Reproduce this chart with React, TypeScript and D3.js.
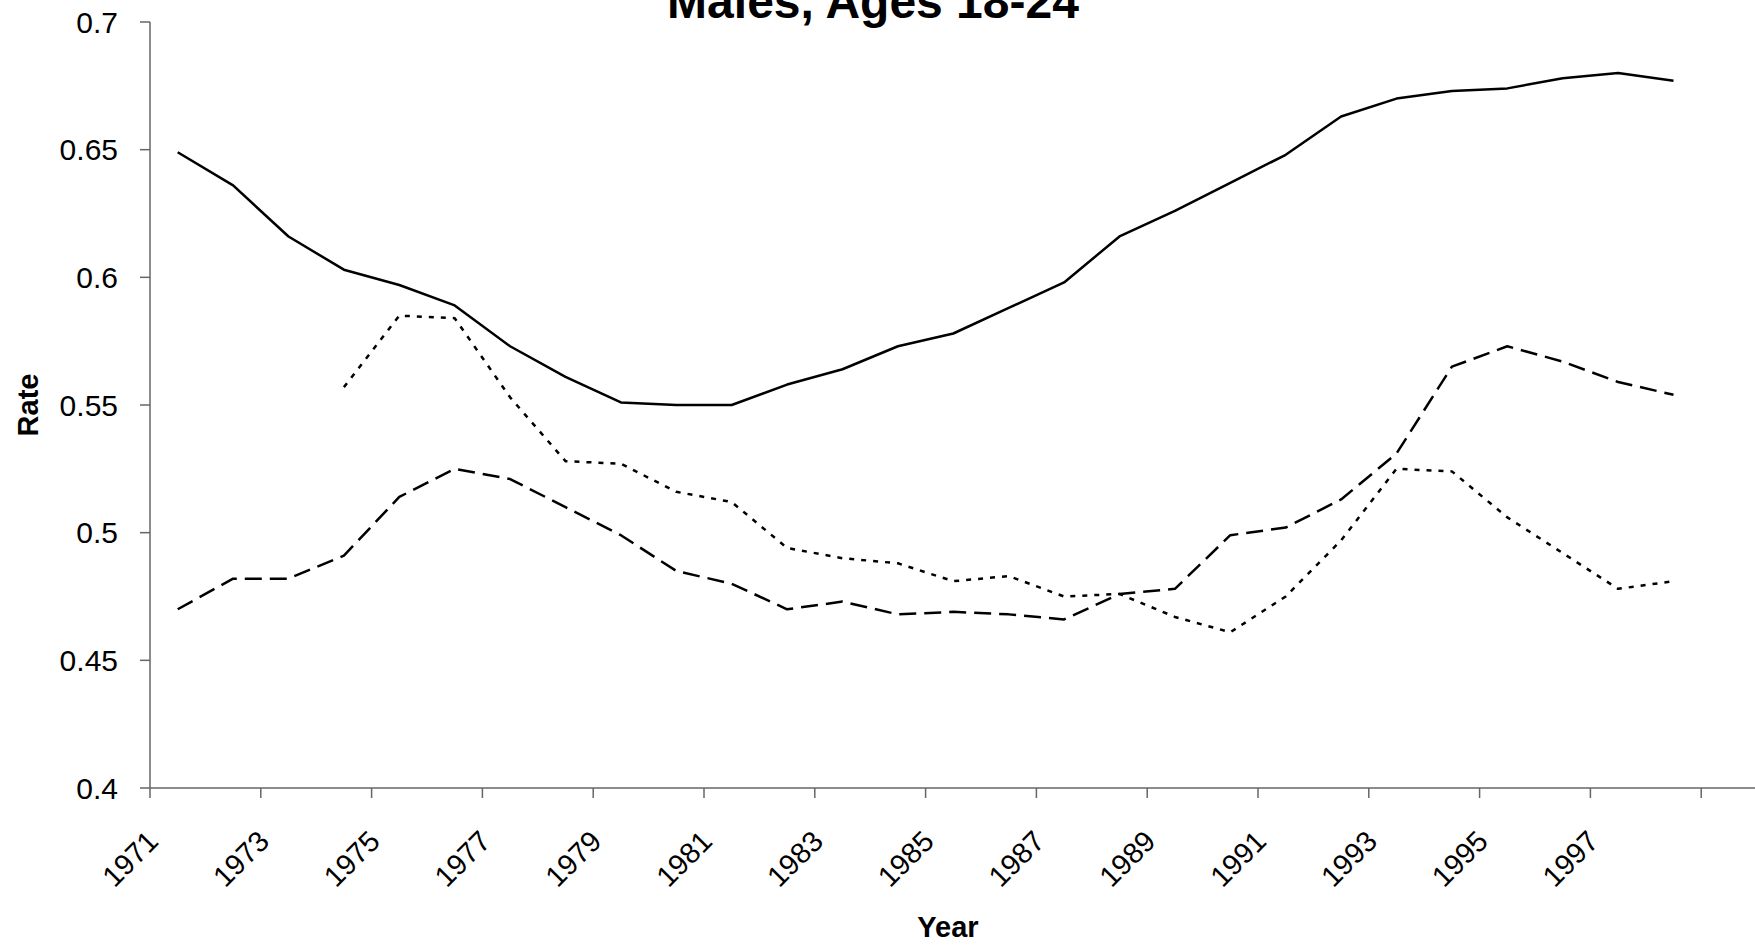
import React, { useEffect, useRef } from 'react';
import * as d3 from 'd3';

// ── Data ────────────────────────────────────────────────────────────────
const years: number[] = d3.range(1971, 1999);

const solidRates: number[] = [
    0.649, 0.636, 0.616, 0.603, 0.597, 0.589, 0.573, 0.561, 0.551, 0.55,
    0.55, 0.558, 0.564, 0.573, 0.578, 0.588, 0.598, 0.616, 0.626, 0.637,
    0.648, 0.663, 0.67, 0.673, 0.674, 0.678, 0.68, 0.677,
];

const dashedRates: number[] = [
    0.47, 0.482, 0.482, 0.491, 0.514, 0.525, 0.521, 0.51, 0.499, 0.485,
    0.48, 0.47, 0.473, 0.468, 0.469, 0.468, 0.466, 0.476, 0.478, 0.499,
    0.502, 0.513, 0.531, 0.565, 0.573, 0.567, 0.559, 0.554,
];

const dottedRates: (number | null)[] = [
    null, null, null, 0.557, 0.585, 0.584, 0.553, 0.528, 0.527, 0.516,
    0.512, 0.494, 0.49, 0.488, 0.481, 0.483, 0.475, 0.476, 0.467, 0.461,
    0.475, 0.497, 0.525, 0.524, 0.506, 0.492, 0.478, 0.481,
];

const yTicks: number[] = [0.4, 0.45, 0.5, 0.55, 0.6, 0.65, 0.7];
const xLabelYears: number[] = d3.range(1971, 1999, 2);

const title = 'Males, Ages 18-24';
const xTitle = 'Year';
const yTitle = 'Rate';

const series = [
    { name: 'solid', values: solidRates, dash: null },
    { name: 'dashed', values: dashedRates, dash: '17,8' },
    { name: 'dotted', values: dottedRates, dash: '5,7' },
];

const App = () => {
    const svgRef = useRef<SVGSVGElement | null>(null);

    useEffect(() => {
        const width = 1755;
        const height = 945;
        const font = '"Liberation Sans", Arial, sans-serif';

        const svg = d3.select(svgRef.current);
        svg.selectAll('*').remove();
        svg.attr('width', width).attr('height', height).style('font-family', font);

        // ── Scales ─────────────────────────────────────────────────────────
        const left = 150;
        const step = 55.4;
        const x = d3
            .scaleBand<number>()
            .domain(years)
            .range([left, left + step * years.length])
            .paddingInner(0)
            .paddingOuter(0);

        const y = d3.scaleLinear().domain([0.4, 0.7]).range([788, 22]);

        const axisColor = '#666';

        // ── Y axis ─────────────────────────────────────────────────────────
        const gy = svg.append('g');
        gy.append('line')
            .attr('x1', left).attr('x2', left)
            .attr('y1', y(0.7)).attr('y2', y(0.4))
            .attr('stroke', axisColor).attr('stroke-width', 1.5);

        gy.selectAll('line.tick')
            .data(yTicks)
            .join('line')
            .attr('class', 'tick')
            .attr('x1', left - 10).attr('x2', left)
            .attr('y1', (d) => y(d)).attr('y2', (d) => y(d))
            .attr('stroke', axisColor).attr('stroke-width', 1.5);

        gy.selectAll('text')
            .data(yTicks)
            .join('text')
            .attr('x', left - 32)
            .attr('y', (d) => y(d))
            .attr('dy', '0.35em')
            .attr('text-anchor', 'end')
            .style('font-size', '30px')
            .text((d) => d3.format('')(+d.toFixed(2)));

        // ── X axis ─────────────────────────────────────────────────────────
        const gx = svg.append('g');
        const axisY = y(0.4);
        gx.append('line')
            .attr('x1', left).attr('x2', width)
            .attr('y1', axisY).attr('y2', axisY)
            .attr('stroke', axisColor).attr('stroke-width', 1.5);

        const tickPositions = xLabelYears.map((yr) => x(yr) as number);
        tickPositions.push(x.range()[1]);

        gx.selectAll('line.tick')
            .data(tickPositions)
            .join('line')
            .attr('class', 'tick')
            .attr('x1', (d) => d).attr('x2', (d) => d)
            .attr('y1', axisY).attr('y2', axisY + 10)
            .attr('stroke', axisColor).attr('stroke-width', 1.5);

        gx.selectAll('text')
            .data(xLabelYears)
            .join('text')
            .attr('text-anchor', 'end')
            .attr('transform', (d) => `translate(${(x(d) as number) + 10},843) rotate(-45)`)
            .style('font-size', '29px')
            .text((d) => d);

        // ── Axis titles ────────────────────────────────────────────────────
        svg.append('text')
            .attr('x', 873)
            .attr('y', 18)
            .attr('text-anchor', 'middle')
            .style('font-size', '48px')
            .style('font-weight', 'bold')
            .text(title);

        svg.append('text')
            .attr('x', 948)
            .attr('y', 937)
            .attr('text-anchor', 'middle')
            .style('font-size', '29px')
            .style('font-weight', 'bold')
            .text(xTitle);

        svg.append('text')
            .attr('transform', 'translate(38,405) rotate(-90)')
            .attr('text-anchor', 'middle')
            .style('font-size', '29px')
            .style('font-weight', 'bold')
            .text(yTitle);

        // ── Lines ──────────────────────────────────────────────────────────
        const line = d3
            .line<number | null>()
            .defined((d) => d != null)
            .x((_d, i) => (x(years[i]) as number) + x.bandwidth() / 2)
            .y((d) => y(d as number));

        svg.append('g')
            .selectAll('path')
            .data(series)
            .join('path')
            .attr('d', (s) => line(s.values))
            .attr('fill', 'none')
            .attr('stroke', '#000')
            .attr('stroke-width', 2.5)
            .attr('stroke-linejoin', 'round')
            .attr('stroke-dasharray', (s) => s.dash);
    }, []);

    return (
        <svg
            ref={svgRef}
            style={{ position: 'absolute', left: 0, top: 0, background: '#fff' }}
        />
    );
};

export default App;
